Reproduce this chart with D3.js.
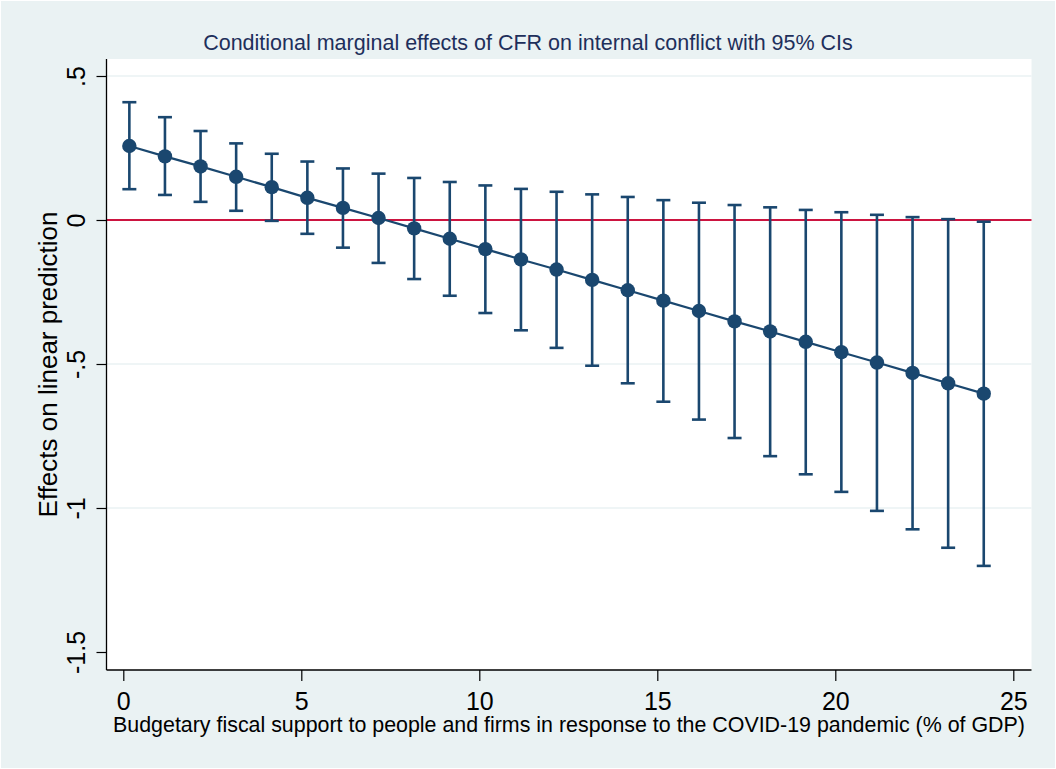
<!DOCTYPE html>
<html>
<head>
<meta charset="utf-8">
<script src="https://cdn.jsdelivr.net/npm/d3@7"></script>
<style>
  html, body { margin: 0; padding: 0; background: #ffffff; }
  svg { display: block; }
  text { font-family: "Liberation Sans", Arial, sans-serif; }
</style>
</head>
<body>
<svg id="chart" width="1056" height="769"></svg>
<script>
// ---- data ----
const xValues = [0.17, 1.17, 2.17, 3.17, 4.17, 5.17, 6.17, 7.17, 8.17, 9.17, 10.17, 11.17, 12.17,
                 13.17, 14.17, 15.17, 16.17, 17.17, 18.17, 19.17, 20.17, 21.17, 22.17, 23.17, 24.17];
const estimates = [0.257, 0.221, 0.186, 0.150, 0.114, 0.077, 0.042, 0.007, -0.029, -0.065, -0.101,
                   -0.137, -0.172, -0.208, -0.244, -0.280, -0.316, -0.352, -0.387, -0.423, -0.459,
                   -0.495, -0.531, -0.567, -0.603];
const upperCI = [0.409, 0.357, 0.309, 0.266, 0.230, 0.203, 0.179, 0.161, 0.146, 0.132, 0.120, 0.108,
                 0.098, 0.089, 0.080, 0.069, 0.060, 0.052, 0.044, 0.035, 0.027, 0.018, 0.010, 0.003, -0.006];
const lowerCI = [0.107, 0.087, 0.063, 0.032, -0.003, -0.048, -0.096, -0.149, -0.205, -0.263, -0.323,
                 -0.383, -0.444, -0.506, -0.567, -0.631, -0.693, -0.757, -0.820, -0.883, -0.944,
                 -1.010, -1.074, -1.138, -1.201];
const xTicks = [0, 5, 10, 15, 20, 25];
const xTickLabels = ["0", "5", "10", "15", "20", "25"];
const yTicks = [0.5, 0, -0.5, -1, -1.5];
const yTickLabels = [".5", "0", "-.5", "-1", "-1.5"];
const yGridValues = [0.5, -0.5, -1];
const refLineValue = 0;
const titleText = "Conditional marginal effects of CFR on internal conflict with 95% CIs";
const xTitleText = "Budgetary fiscal support to people and firms in response to the COVID-19 pandemic (% of GDP)";
const yTitleText = "Effects on linear prediction";

// ---- layout ----
const W = 1056, H = 769;
const plot = { left: 106.5, right: 1031.5, top: 59, bottom: 670 };
const navy = "#1a476f";
const bg = "#eaf2f3";

const svg = d3.select("#chart");

svg.append("rect").attr("x", 1).attr("y", 1).attr("width", W - 2).attr("height", H - 2).attr("fill", bg);
svg.append("rect").attr("x", plot.left).attr("y", plot.top)
  .attr("width", plot.right - plot.left).attr("height", plot.bottom - plot.top).attr("fill", "#ffffff");

const x = d3.scaleLinear().domain([0, 25]).range([123.3, 1013.3]);
const y = d3.scaleLinear().domain([0.5, -1.5]).range([76, 652]);

// gridlines
svg.append("g").selectAll("line").data(yGridValues).join("line")
  .attr("x1", plot.left).attr("x2", plot.right)
  .attr("y1", d => y(d)).attr("y2", d => y(d))
  .attr("stroke", bg).attr("stroke-width", 1.6);

// reference line at 0
svg.append("line")
  .attr("x1", plot.left).attr("x2", plot.right)
  .attr("y1", y(refLineValue)).attr("y2", y(refLineValue))
  .attr("stroke", "#cc1440").attr("stroke-width", 2);

// axes
const yAxis = d3.axisLeft(y).tickValues(yTicks).tickSize(10).tickPadding(0)
  .tickFormat((d, i) => yTickLabels[i]);
const gy = svg.append("g").attr("transform", `translate(${plot.left},0)`).call(yAxis);
gy.select(".domain").remove();
gy.selectAll(".tick line").attr("stroke", "#000").attr("stroke-width", 1.2);
gy.selectAll(".tick text")
  .attr("x", null).attr("dy", null)
  .attr("transform", "translate(-22,0) rotate(-90)")
  .attr("text-anchor", "middle").attr("y", 0)
  .attr("font-size", 25).attr("fill", "#000")
  .attr("font-family", "Liberation Sans, Arial, sans-serif");

const xAxis = d3.axisBottom(x).tickValues(xTicks).tickSize(11).tickPadding(0)
  .tickFormat((d, i) => xTickLabels[i]);
const gx = svg.append("g").attr("transform", `translate(0,${plot.bottom})`).call(xAxis);
gx.select(".domain").remove();
gx.selectAll(".tick line").attr("stroke", "#000").attr("stroke-width", 1.2);
gx.selectAll(".tick text")
  .attr("y", 40).attr("dy", null)
  .attr("font-size", 25).attr("fill", "#000")
  .attr("font-family", "Liberation Sans, Arial, sans-serif");

// axis lines
svg.append("line").attr("x1", plot.left).attr("x2", plot.left)
  .attr("y1", plot.top).attr("y2", plot.bottom).attr("stroke", "#000").attr("stroke-width", 1.3);
svg.append("line").attr("x1", plot.left).attr("x2", plot.right)
  .attr("y1", plot.bottom).attr("y2", plot.bottom).attr("stroke", "#000").attr("stroke-width", 1.3);

// data
const data = xValues.map((v, i) => ({ x: v, est: estimates[i], lo: lowerCI[i], hi: upperCI[i] }));

const bars = svg.append("g").attr("stroke", navy).attr("stroke-width", 2.6).attr("fill", "none");
bars.selectAll("line.v").data(data).join("line").attr("class", "v")
  .attr("x1", d => x(d.x)).attr("x2", d => x(d.x))
  .attr("y1", d => y(d.hi)).attr("y2", d => y(d.lo));
bars.selectAll("line.capHi").data(data).join("line").attr("class", "capHi")
  .attr("x1", d => x(d.x) - 7).attr("x2", d => x(d.x) + 7)
  .attr("y1", d => y(d.hi)).attr("y2", d => y(d.hi));
bars.selectAll("line.capLo").data(data).join("line").attr("class", "capLo")
  .attr("x1", d => x(d.x) - 7).attr("x2", d => x(d.x) + 7)
  .attr("y1", d => y(d.lo)).attr("y2", d => y(d.lo));

const line = d3.line().x(d => x(d.x)).y(d => y(d.est));
svg.append("path").datum(data).attr("d", line)
  .attr("fill", "none").attr("stroke", navy).attr("stroke-width", 2.2);

svg.append("g").selectAll("circle").data(data).join("circle")
  .attr("cx", d => x(d.x)).attr("cy", d => y(d.est)).attr("r", 7.2)
  .attr("fill", navy);

// titles
svg.append("text").attr("x", W / 2).attr("y", 50).attr("text-anchor", "middle")
  .attr("font-size", 21.5).attr("fill", "#1e2f5b").text(titleText);
svg.append("text").attr("x", (plot.left + plot.right) / 2).attr("y", 732).attr("text-anchor", "middle")
  .attr("font-size", 21.4).attr("fill", "#000").text(xTitleText);
svg.append("text").attr("transform", `translate(57,${(plot.top + plot.bottom) / 2}) rotate(-90)`)
  .attr("text-anchor", "middle").attr("font-size", 26).attr("fill", "#000").text(yTitleText);
</script>
</body>
</html>
